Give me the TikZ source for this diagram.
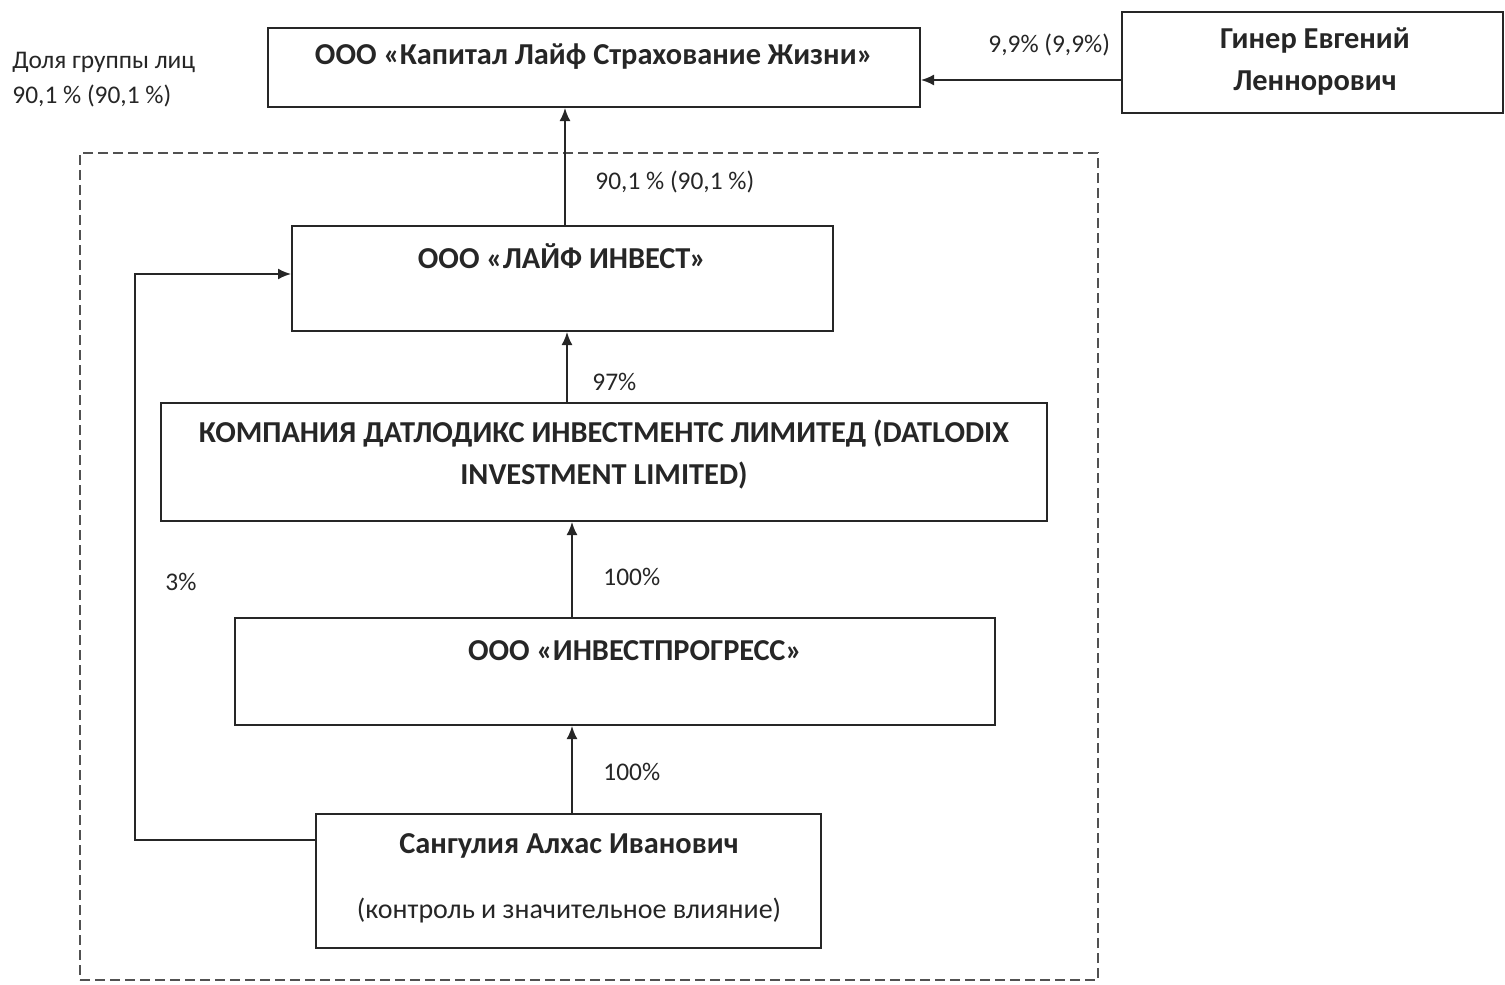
\documentclass[tikz,border=0pt]{standalone}
\usepackage{fontspec}
\setmainfont{Carlito}
\usetikzlibrary{arrows.meta,fit}
\definecolor{ink}{HTML}{262626}
\tikzset{
  box/.style={draw=ink, line width=1pt, inner sep=0pt, fill=none},
  grp/.style={draw=ink!80, line width=0.8pt, dash pattern=on 5pt off 2.5pt, inner sep=0pt},
  conn/.style={draw=ink, line width=0.9pt, -{Latex[length=6.5pt,width=5.5pt]}},
  bt/.style={font=\fontsize{15.2}{18}\selectfont\bfseries, text=ink, inner sep=0pt},
  lt/.style={font=\fontsize{12.7}{15}\selectfont, text=ink, inner sep=0pt},
  st/.style={font=\fontsize{14}{16}\selectfont, text=ink, inner sep=0pt},
}
\begin{document}
\begin{tikzpicture}[x=0.5pt,y=-0.5pt]
\useasboundingbox (0,0) rectangle (1505,985);
% group frame
\node[grp, fit={(80,153) (1098,980)}] (group) {};
% boxes
\node[box, fit={(268,28) (920,107)}] (top) {};
\node[box, fit={(1122,12) (1503,113)}] (giner) {};
\node[box, fit={(292,226) (833,331)}] (life) {};
\node[box, fit={(161,403) (1047,521)}] (datl) {};
\node[box, fit={(235,618) (995,725)}] (inv) {};
\node[box, fit={(316,814) (821,948)}] (sang) {};
% box texts
\node[bt] (ttop) at (594,57) {ООО «Капитал Лайф Страхование Жизни»};
\node[bt] (tgin1) at (1315,41) {Гинер Евгений};
\node[bt] (tgin2) at (1315,83) {Леннорович};
\node[bt] (tlife) at (562,256) {ООО «ЛАЙФ ИНВЕСТ»};
\node[bt] (tdat1) at (604,434) {КОМПАНИЯ ДАТЛОДИКС ИНВЕСТМЕНТС ЛИМИТЕД (DATLODIX};
\node[bt] (tdat2) at (604,476) {INVESTMENT LIMITED)};
\node[bt] (tinv) at (635,651) {ООО «ИНВЕСТПРОГРЕСС»};
\node[bt] (tsan1) at (569,846) {Сангулия Алхас Иванович};
\node[st] (tsan2) at (569,911) {(контроль и значительное влияние)};
% side labels
\node[lt, anchor=west] (dolya1) at (12,62) {Доля группы лиц};
\node[lt, anchor=west] (dolya2) at (12,96) {90,1 \% (90,1 \%)};
% connectors
\draw[conn] (life.north -| 565,0) -- (top.south -| 565,0);
\node[lt, anchor=west] (l1) at (595,182) {90,1 \% (90,1 \%)};
\draw[conn] (datl.north -| 567,0) -- (life.south -| 567,0);
\node[lt, anchor=west] (l2) at (592,382) {97\%};
\draw[conn] (inv.north -| 572,0) -- (datl.south -| 572,0);
\node[lt, anchor=west] (l3) at (603,577) {100\%};
\draw[conn] (sang.north -| 572,0) -- (inv.south -| 572,0);
\node[lt, anchor=west] (l4) at (603,772) {100\%};
\draw[conn] (sang.west |- 0,840) -- (135,840) -- (135,274) -- (life.west |- 0,274);
\node[lt, anchor=west] (l5) at (165,582) {3\%};
\draw[conn] (giner.west |- 0,80) -- (top.east |- 0,80);
\node[lt, anchor=west] (l6) at (988,45) {9,9\% (9,9\%)};
\end{tikzpicture}
\end{document}
